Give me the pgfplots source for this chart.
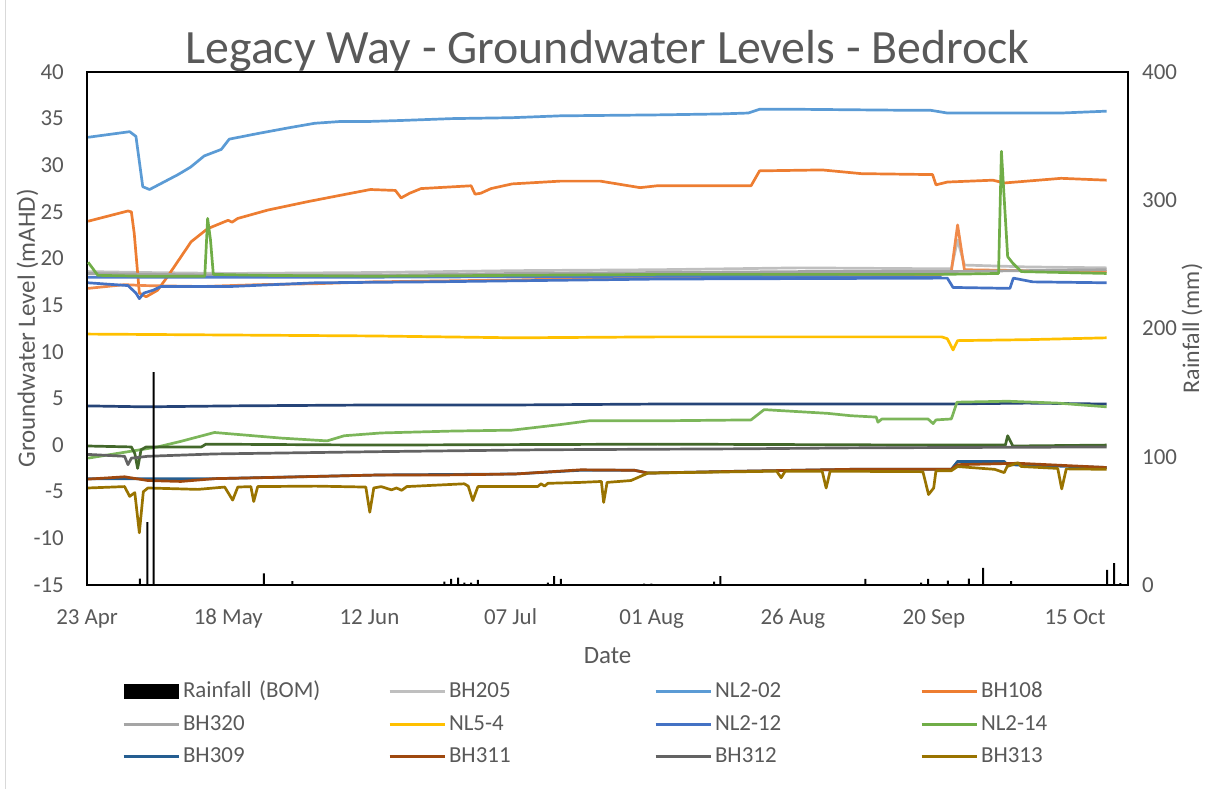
\documentclass[border=0pt]{standalone}
\usepackage{pgfplots}
\pgfplotsset{compat=1.18}
\usepackage{fontspec}
\setmainfont{Carlito}
\definecolor{txt}{HTML}{595959}
\definecolor{frame}{HTML}{D9D9D9}
\definecolor{cBHa}{HTML}{BFBFBF}
\definecolor{cNLa}{HTML}{5B9BD5}
\definecolor{cBHb}{HTML}{ED7D31}
\definecolor{cBHc}{HTML}{A5A5A5}
\definecolor{cNLb}{HTML}{FFC000}
\definecolor{cNLc}{HTML}{4472C4}
\definecolor{cNLd}{HTML}{70AD47}
\definecolor{cBHd}{HTML}{255E91}
\definecolor{cBHe}{HTML}{9E480E}
\definecolor{cBHf}{HTML}{636363}
\definecolor{cBHg}{HTML}{997300}
\definecolor{cXa}{HTML}{264478}
\definecolor{cXb}{HTML}{43682B}
\definecolor{cXc}{HTML}{F08A4B}
\definecolor{cXd}{HTML}{7CB65A}
\definecolor{cXe}{HTML}{4F7BCB}
\begin{document}
\begin{tikzpicture}[x=1bp,y=1bp]
\path[use as bounding box] (0,0) rectangle (1208,789);
\draw[frame, line width=1bp] (5,0) -- (5,789);
\begin{axis}[
  at={(87bp,204bp)}, anchor=south west,
  width=1041bp, height=513bp, scale only axis,
  xmin=-0.2, xmax=182.75, ymin=-15, ymax=40,
  xtick={-0.18,24.63,49.43,74.23,99.03,123.85,148.64,173.45},
  xticklabels={23 Apr,18 May,12 Jun,07 Jul,01 Aug,26 Aug,20 Sep,15 Oct},
  ytick={-15,-10,...,40},
  major tick length=0pt,
  axis line style={black, line width=1.5bp},
  tick label style={font=\fontsize{23}{27}\selectfont, color=txt},
  /pgf/number format/assume math mode=true,
  xticklabel style={anchor=base, yshift=-39.5bp},
  yticklabel style={anchor=east, inner sep=0pt, xshift=-23bp},
  xlabel={Date},
  xlabel style={at={(axis description cs:0.5,0)}, anchor=base, yshift=-79bp, font=\fontsize{25}{29}\selectfont, color=txt},
  ylabel={Groundwater Level (mAHD)},
  ylabel style={at={(axis description cs:-0.04995,0.5)}, anchor=base, font=\fontsize{25}{29}\selectfont, color=txt},
  title={Legacy Way - Groundwater Levels - Bedrock},
  title style={at={(axis description cs:0.5,1)}, anchor=base, yshift=3bp, font=\fontsize{48}{52}\selectfont, color=txt},
  every axis plot/.append style={line width=2.7bp, line join=round},
]
% BH205
\addplot[cBHa] coordinates {(0,18.6) (10,18.5) (25,18.4) (50,18.5) (75,18.7) (100,18.8) (125,19.0) (150,18.9) (151.7,18.9) (152.8,22.0) (154,19.3) (165,19.1) (179,19.0)};
% NL2-02
\addplot[cNLa] coordinates {(0,33.0) (7.3,33.6) (8.4,33.1) (9.6,27.7) (10.8,27.4) (15.8,29) (18,29.8) (20.4,31) (23.4,31.7) (24.8,32.8) (29.8,33.4) (35.1,34.0) (39.8,34.5) (44.5,34.7) (49.6,34.7) (55,34.8) (63.8,35.0) (74.5,35.1) (83,35.3) (100,35.4) (111,35.5) (116,35.6) (118,36.0) (125,36.0) (143,35.9) (148,35.9) (151,35.6) (160.5,35.6) (171,35.6) (179,35.8)};
% BH108
\addplot[cBHb] coordinates {(0,24.0) (7,25.1) (7.6,25.0) (8.1,22.7) (9.0,16.3) (10.2,15.9) (12.2,16.6) (14,18.1) (18.1,21.8) (21,23.2) (24.6,24.1) (25.3,23.9) (26.3,24.3) (31.6,25.2) (38.6,26.1) (44.5,26.8) (49.6,27.4) (54,27.3) (55,26.5) (56.5,27.0) (58.5,27.5) (67.3,27.8) (68,26.9) (69,27.0) (70.8,27.5) (74.5,28.0) (83,28.3) (90,28.3) (97,27.6) (100,27.8) (116.5,27.8) (118,29.4) (129,29.5) (135.9,29.1) (148.4,29.0) (149,27.9) (151,28.2) (159,28.4) (161,28.1) (171,28.6) (179,28.4)};
% extra orange
\addplot[cXc] coordinates {(0,16.8) (6.4,17.2) (10,17.1) (20,17.0) (30,17.2) (40,17.3) (50,17.5) (75,17.7) (100,18.0) (125,18.1) (150,18.3) (151.7,18.6) (152.8,23.6) (154,18.8) (165,18.7) (179,18.6)};
% BH320
\addplot[cBHc] coordinates {(0,18.4) (25,18.2) (50,18.2) (75,18.4) (100,18.5) (125,18.6) (150,18.6) (179,18.8)};
% NL5-4
\addplot[cNLb] coordinates {(0,11.9) (25,11.8) (50,11.7) (75,11.5) (100,11.6) (125,11.6) (150,11.6) (151,11.4) (152,10.2) (152.8,11.2) (165,11.3) (179,11.5)};
% extra blue
\addplot[cXe] coordinates {(0,18.0) (50,18.0) (100,18.1) (150,18.0)};
% NL2-12
\addplot[cNLc] coordinates {(0,17.4) (7,17.1) (8.4,16.3) (9,15.7) (9.8,16.3) (11.4,16.6) (12.8,17.0) (25,17.0) (40,17.4) (60,17.5) (100,17.8) (150,17.9) (151,17.9) (152,16.9) (162,16.8) (162.6,17.9) (166,17.5) (179,17.4)};
% NL2-14
\addplot[cNLd] coordinates {(0,19.6) (1.7,18.2) (10,18.1) (20.5,18.1) (21,24.3) (21.5,22) (22,18.3) (30,18.2) (50,18.1) (75,18.2) (100,18.3) (125,18.3) (150,18.3) (160,18.4) (160.5,31.5) (161.6,20.2) (162.5,19.5) (164,18.6) (179,18.4)};
% extra navy
\addplot[cXa] coordinates {(0,4.2) (10,4.1) (25,4.2) (50,4.3) (75,4.3) (100,4.4) (125,4.4) (150,4.4) (165,4.5) (179,4.4)};
% extra light green
\addplot[cXd] coordinates {(0,-1.4) (12.2,-0.2) (16.3,0.4) (22.2,1.35) (33.9,0.75) (42,0.45) (45,1.0) (51.5,1.3) (63.8,1.5) (74.5,1.6) (83,2.2) (88,2.6) (100,2.6) (116.5,2.7) (118.8,3.8) (130,3.4) (134,3.15) (138.5,3.0) (138.8,2.45) (139.5,2.8) (147.6,2.8) (148.5,2.3) (149,2.7) (151.7,2.8) (152.7,4.6) (161.6,4.7) (170.4,4.5) (179,4.1)};
% extra dark green
\addplot[cXb] coordinates {(0,-0.1) (7.6,-0.2) (8.2,-0.9) (8.7,-2.5) (9.3,-0.5) (10.2,-0.2) (19.9,-0.2) (20.7,0.1) (50,0.0) (100,0.1) (150,0.0) (161.2,0.0) (161.6,1.0) (162.5,-0.1) (179,0.0)};
% BH312
\addplot[cBHf] coordinates {(0,-1.0) (6.4,-1.2) (7,-2.1) (7.6,-1.4) (10.5,-1.2) (22.2,-0.95) (51.5,-0.7) (80,-0.5) (114.8,-0.4) (134,-0.3) (179,-0.2)};
% BH309
\addplot[cBHd] coordinates {(0,-3.6) (22,-3.6) (51.5,-3.2) (75,-3.1) (86.6,-2.7) (96,-2.7) (98.4,-3.0) (114.8,-2.8) (134,-2.6) (151.7,-2.6) (152.8,-1.75) (161,-1.75) (161.5,-2.1) (179,-2.4)};
% BH311
\addplot[cBHe] coordinates {(0,-3.65) (6.4,-3.4) (10.5,-3.8) (16.3,-3.9) (22.2,-3.6) (33.9,-3.45) (51.5,-3.2) (63.2,-3.2) (75,-3.1) (86.6,-2.65) (96,-2.7) (98.4,-3.0) (114.8,-2.8) (134,-2.6) (151.7,-2.6) (152.8,-2.1) (163.4,-1.95) (179,-2.4)};
% BH313
\addplot[cBHg] coordinates {(0,-4.6) (6.4,-4.45) (7.3,-5.5) (8.2,-5.1) (9.0,-9.4) (9.7,-5.0) (10.5,-4.6) (19.3,-4.75) (24,-4.5) (25.4,-5.9) (26.3,-4.5) (28.6,-4.45) (29.1,-6.05) (29.8,-4.45) (40,-4.4) (48.8,-4.5) (49.5,-7.2) (50.2,-4.6) (51.5,-4.45) (53.3,-4.8) (54.2,-4.6) (55.1,-4.85) (56,-4.45) (66.1,-4.15) (66.8,-4.4) (67.6,-5.95) (68.5,-4.45) (79,-4.45) (79.6,-4.15) (80.2,-4.4) (80.8,-4.1) (86.6,-4.0) (90.2,-3.9) (90.6,-6.15) (91.2,-4.0) (95.4,-3.8) (98.4,-3.0) (110,-2.9) (121,-2.8) (121.8,-3.5) (122.5,-2.8) (129,-2.8) (129.7,-4.6) (130.4,-2.8) (146.7,-2.85) (147.7,-5.3) (148.6,-4.6) (149,-2.75) (151.7,-2.75) (152.8,-2.3) (159.3,-2.6) (161,-2.95) (161.5,-2.3) (163.4,-1.9) (164,-2.3) (170.4,-2.5) (171.1,-4.7) (171.9,-2.55) (179,-2.6)};
\end{axis}
\begin{axis}[
  at={(87bp,204bp)}, anchor=south west,
  width=1041bp, height=513bp, scale only axis,
  xmin=-0.2, xmax=182.75, ymin=0, ymax=400,
  ytick={0,100,...,400},
  axis x line=none, axis y line*=right,
  axis line style={black, line width=1.5bp},
  major tick length=0pt,
  tick label style={font=\fontsize{23}{27}\selectfont, color=txt},
  /pgf/number format/assume math mode=true,
  yticklabel style={anchor=west, inner sep=0pt, xshift=14bp},
  ylabel={Rainfall (mm)},
  ylabel style={at={(axis description cs:1.0682,0.5)}, anchor=base, font=\fontsize{24}{28}\selectfont, color=txt},
  legend columns=4,
  legend style={at={(axis description cs:0.5423,-0.2719)}, anchor=center, draw=none, fill=none, inner sep=0pt,
    font=\fontsize{23}{27}\selectfont, text=txt, column sep=3bp, row sep=10.5bp,
    nodes={text width=200bp, text height=17bp, text depth=5bp, inner sep=0pt},
    cells={anchor=west},
    /tikz/every even column/.append style={column sep=5bp}},
  legend image code/.code={\draw[#1, line width=3bp] (0bp,0bp) -- (55bp,0bp);},
]
\addplot[ybar, bar width=2bp, fill=black, draw=none,
  legend image code/.code={\fill[black] (0bp,-7.5bp) rectangle (55bp,7.5bp);}]
  coordinates {(9.1,5) (10.4,49) (11.5,166) (30.9,9) (35.9,3) (62.6,2.6) (63.8,4.7) (65,5.7) (66.1,1.8) (67.3,1.8) (68.5,3.9) (80.8,1.8) (81.9,7) (83.1,4.7) (97.7,1) (99,1) (110,2.6) (111.1,7) (136.6,4.7) (146.4,1.8) (147.6,4.7) (151.1,3.4) (154.8,5) (157.3,13.3) (162.2,3) (179.1,11.7) (180.3,17) (181.4,1.5)};
\addlegendentry{Rainfall (BOM)}
\addlegendimage{color=cBHa}\addlegendentry{BH205}
\addlegendimage{color=cNLa}\addlegendentry{NL2-02}
\addlegendimage{color=cBHb}\addlegendentry{BH108}
\addlegendimage{color=cBHc}\addlegendentry{BH320}
\addlegendimage{color=cNLb}\addlegendentry{NL5-4}
\addlegendimage{color=cNLc}\addlegendentry{NL2-12}
\addlegendimage{color=cNLd}\addlegendentry{NL2-14}
\addlegendimage{color=cBHd}\addlegendentry{BH309}
\addlegendimage{color=cBHe}\addlegendentry{BH311}
\addlegendimage{color=cBHf}\addlegendentry{BH312}
\addlegendimage{color=cBHg}\addlegendentry{BH313}
\end{axis}
\end{tikzpicture}
\end{document}
